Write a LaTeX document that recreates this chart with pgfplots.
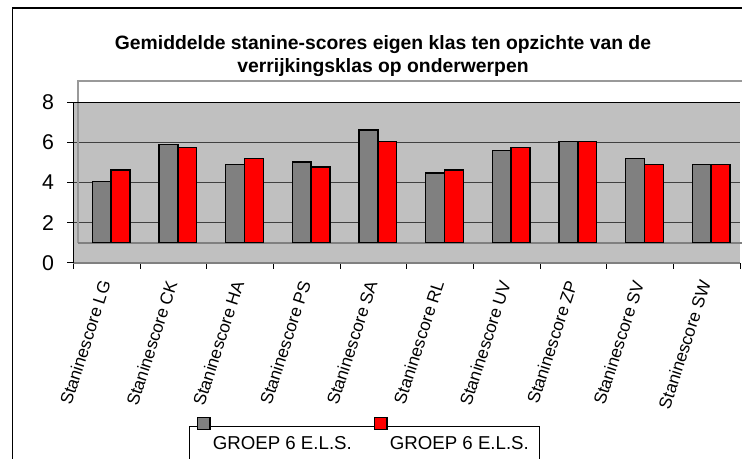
\documentclass[border=0pt]{standalone}
\usepackage{fontspec}
\setmainfont{Liberation Sans}
\usepackage{pgfplots}
\pgfplotsset{compat=1.18}
\definecolor{wall}{HTML}{C0C0C0}
\definecolor{bargray}{HTML}{808080}
\definecolor{framegray}{HTML}{999999}
\definecolor{gridgray}{HTML}{404040}
\definecolor{barred}{HTML}{FF0000}
\begin{document}
\begin{tikzpicture}
\useasboundingbox (0,0) rectangle (556.5pt,344.25pt);
\draw[black, line width=1pt] (9.5pt,-20pt) rectangle (580pt,338.25pt);
\node[anchor=base, inner sep=0pt, font=\bfseries\fontsize{14.5pt}{16pt}\selectfont] at (287.25pt,307.1pt) {Gemiddelde stanine-scores eigen klas ten opzichte van de};
\node[anchor=base, inner sep=0pt, font=\bfseries\fontsize{14.5pt}{16pt}\selectfont] at (287.25pt,289.8pt) {verrijkingsklas op onderwerpen};
\begin{axis}[
  at={(55pt,147.2pt)}, anchor=south west,
  scale only axis, width=500pt, height=120.3pt,
  xmin=-0.5, xmax=9.5, ymin=0, ymax=8,
  y coord trafo/.code={\pgfmathparse{#1-1}},
  y coord inv trafo/.code={\pgfmathparse{#1+1}},
  ytick={0,2,4,6,8}, yticklabels={0,2,4,6,8},
  xtick={0,1,2,3,4,5,6,7,8,9},
  xticklabels={Staninescore LG,Staninescore CK,Staninescore HA,Staninescore PS,Staninescore SA,Staninescore RL,Staninescore UV,Staninescore ZP,Staninescore SV,Staninescore SW},
  minor xtick={-0.5,0.5,1.5,2.5,3.5,4.5,5.5,6.5,7.5,8.5,9.5},
  major x tick style={draw=none},
  tick align=outside, major tick length=4.5pt, minor tick length=4.5pt,
  tick style={black, line width=0.75pt},
  axis x line*=bottom, axis y line*=left,
  x axis line style={draw=bargray, line width=1.5pt, -},
  y axis line style={draw=black, line width=0.75pt, -},
  yticklabel style={font=\fontsize{16pt}{18pt}\selectfont, xshift=-6.5pt},
  xticklabel style={font=\fontsize{13pt}{15pt}\selectfont, rotate=72, anchor=east},
  xticklabel shift=6pt,
  ymajorgrids, grid style={gridgray, line width=0.75pt},
  axis background/.style={fill=wall},
  clip=false,
  legend columns=2,
  legend cell align=left,
  legend style={at={(0.1735,-1.015)}, anchor=north west, draw=black, line width=0.75pt, fill=white,
    font=\fontsize{14pt}{16pt}\selectfont,
    /tikz/every even column/.append style={column sep=15pt},
    inner xsep=6pt, inner ysep=5.5pt},
  legend image code/.code={\path[draw=none,fill=none] (0pt,0pt) -- (9.5pt,0pt); \draw[#1,overlay] (0pt,10.5pt) rectangle (9.5pt,19.5pt);},
]
\draw[framegray, line width=1.1pt] (rel axis cs:0.007,0.125) -- (rel axis cs:0.007,1.1328) -- (rel axis cs:1.05,1.1328);
\draw[bargray, line width=1.5pt] (rel axis cs:0.007,0.125) -- (rel axis cs:1.05,0.125);
\draw[black, line width=0.75pt] (rel axis cs:0,1) -- (rel axis cs:1,1);
\addplot[ybar, bar width=14.1pt, bar shift=-3.7pt, fill=bargray, draw=black, line width=1.1pt] coordinates {
(0,4.04) (1,5.89) (2,4.91) (3,5.02) (4,6.62) (5,4.47) (6,5.60) (7,6.05) (8,5.19) (9,4.89)};
\addlegendentry{GROEP 6 E.L.S.}
\addplot[ybar, bar width=14.1pt, bar shift=10.4pt, fill=barred, draw=black, line width=1.1pt] coordinates {
(0,4.62) (1,5.76) (2,5.19) (3,4.77) (4,6.05) (5,4.62) (6,5.76) (7,6.05) (8,4.89) (9,4.89)};
\addlegendentry{GROEP 6 E.L.S.}
\end{axis}
\end{tikzpicture}
\end{document}
